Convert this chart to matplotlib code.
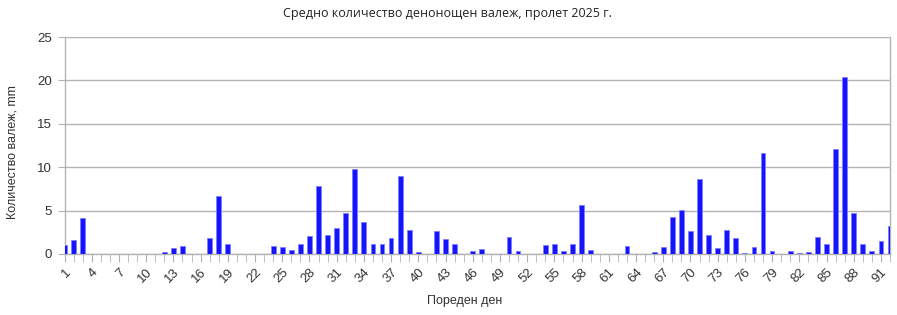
import matplotlib
matplotlib.use("Agg")
import matplotlib.pyplot as plt
import numpy as np

plt.rcParams['font.family'] = ['Liberation Sans', 'DejaVu Sans']

title = "Средно количество денонощен валеж, пролет 2025 г."
x_label = "Пореден ден"
y_label = "Количество валеж, mm"

days = list(range(1, 93))
rain_mm = [
    1.0, 1.6, 4.1, 0.0, 0.0, 0.0, 0.0, 0.0, 0.0, 0.0,
    0.0, 0.2, 0.7, 0.9, 0.0, 0.05, 1.9, 6.7, 1.2, 0.0,
    0.0, 0.0, 0.0, 0.9, 0.8, 0.5, 1.1, 2.1, 7.8, 2.2,
    3.0, 4.7, 9.8, 3.7, 1.1, 1.2, 1.9, 9.0, 2.8, 0.2,
    0.05, 2.6, 1.7, 1.2, 0.0, 0.3, 0.6, 0.05, 0.0, 2.0,
    0.3, 0.0, 0.05, 1.0, 1.2, 0.4, 1.2, 5.6, 0.5, 0.0,
    0.0, 0.0, 0.9, 0.05, 0.0, 0.2, 0.8, 4.3, 5.1, 2.7,
    8.6, 2.2, 0.7, 2.8, 1.9, 0.1, 0.8, 11.6, 0.4, 0.05,
    0.4, 0.1, 0.2, 2.0, 1.1, 12.1, 20.4, 4.7, 1.2, 0.3,
    1.5, 3.2,
]
tick_days = days[::3]
y_ticks = [0, 5, 10, 15, 20, 25]

fig = plt.figure(figsize=(8.97, 3.15), dpi=100)
ax = fig.add_axes([64.5 / 897, 1 - 254 / 315, (890 - 64.5) / 897, (254 - 37) / 315])

ax.bar(days, rain_mm, width=0.52, color='#1414ff', edgecolor='#7f7fff',
       linewidth=0.6, zorder=3)

ax.set_xlim(1, 92)
ax.set_ylim(0, 25)
ax.set_yticks(y_ticks)
ax.yaxis.grid(True, color='#b3b3b3', linewidth=1.0, zorder=0)
ax.set_axisbelow(True)

ax.set_xticks(days, minor=True)
ax.set_xticks(tick_days)
ax.set_xticklabels([str(d) for d in tick_days], rotation=45, ha='right',
                   rotation_mode='anchor', fontsize=9.5, color='#333333')
ax.tick_params(axis='x', which='both', length=6, color='#b3b3b3', pad=3)
ax.tick_params(axis='y', length=5, color='#b3b3b3', labelsize=9.5,
               labelcolor='#333333', pad=4)

for side in ['left', 'bottom', 'right']:
    ax.spines[side].set_color('#b3b3b3')
    ax.spines[side].set_linewidth(1.0)
ax.spines['top'].set_visible(False)

fig.text(447 / 897, 1 - 13 / 315, title, ha='center', va='center',
         fontsize=9, color='#222222', family=['Open Sans', 'DejaVu Sans'])
fig.text(465 / 897, 1 - 301 / 315, x_label, ha='center', va='center',
         fontsize=9, color='#333333')
fig.text(13 / 897, 1 - 152 / 315, y_label, ha='center', va='center',
         rotation=90, fontsize=9, color='#333333')

fig.savefig("out.png", dpi=100)
